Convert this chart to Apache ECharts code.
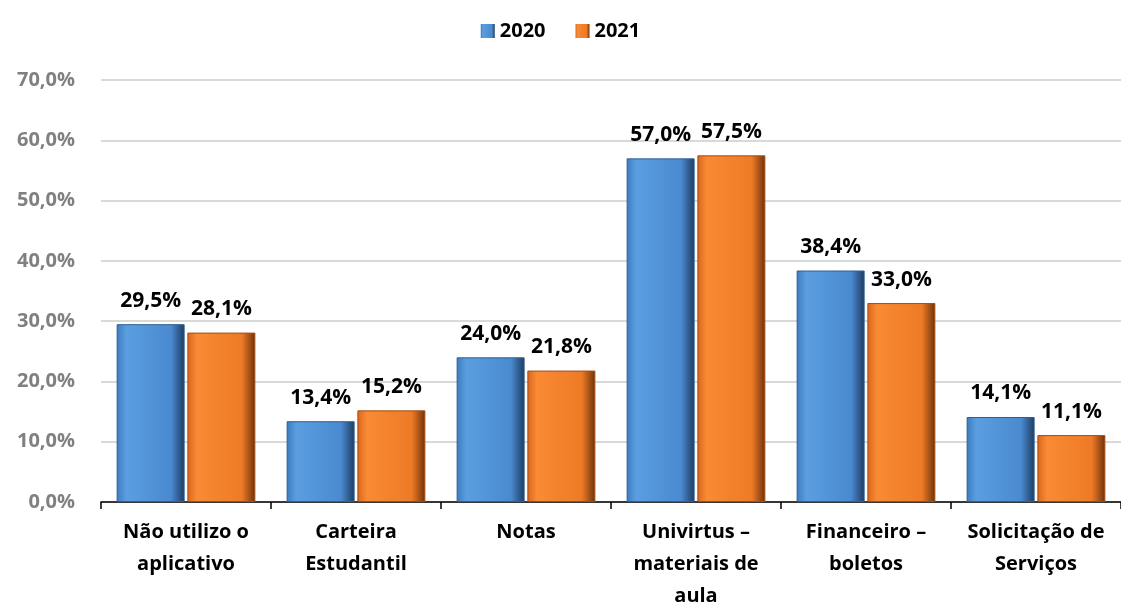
<!DOCTYPE html>
<html>
<head>
<meta charset="utf-8">
<script src="https://cdn.jsdelivr.net/npm/echarts@6/dist/echarts.min.js"></script>
<style>
  html, body { margin: 0; padding: 0; background: #fff; }
  #chart { width: 1121px; height: 612px; }
</style>
</head>
<body>
<div id="chart"></div>
<script>
// categorias e valores (%)
const categories = ['Não utilizo o\naplicativo', 'Carteira\nEstudantil', 'Notas', 'Univirtus –\nmateriais de\naula', 'Financeiro –\nboletos', 'Solicitação de\nServiços'];
const values2020 = [29.5, 13.4, 24.0, 57.0, 38.4, 14.1];
const values2021 = [28.1, 15.2, 21.8, 57.5, 33.0, 11.1];
const seriesNames = ['2020', '2021'];

const fontFam = '"Open Sans", Lato, sans-serif';

// gradiente horizontal para imitar o bisel
function bevel(left, light, mid, dark) {
  return new echarts.graphic.LinearGradient(0, 0, 1, 0, [
    { offset: 0, color: left },
    { offset: 0.14, color: light },
    { offset: 0.8, color: mid },
    { offset: 1, color: dark }
  ]);
}
const blue = bevel('#3d7bbd', '#5a9ee0', '#4a8ad0', '#1d3b60');
const orange = bevel('#d8661d', '#fa8a34', '#ee7a26', '#6e320b');

function fmt(v) {
  return v.toFixed(1).replace('.', ',') + '%';
}

const labelStyle = {
  show: true,
  position: 'top',
  distance: 13,
  fontFamily: fontFam,
  fontWeight: 'bold',
  fontSize: 21,
  color: '#000',
  formatter: p => fmt(p.value)
};

const chart = echarts.init(document.getElementById('chart'));
chart.setOption({
  animation: false,
  legend: {
    top: 16,
    left: 'center',
    icon: 'rect',
    itemWidth: 14,
    itemHeight: 14,
    itemGap: 30,
    itemStyle: { borderWidth: 0 },
    textStyle: { fontFamily: fontFam, fontWeight: 'bold', fontSize: 20, color: '#000' },
    data: [
      { name: seriesNames[0], itemStyle: { color: blue } },
      { name: seriesNames[1], itemStyle: { color: orange } }
    ]
  },
  grid: { left: 101, right: -10, top: 80, bottom: 109 },
  xAxis: {
    type: 'category',
    data: categories,
    axisLine: { lineStyle: { color: '#000', width: 1.5 } },
    axisTick: { show: true, length: 7, lineStyle: { color: '#000', width: 1.5 } },
    axisLabel: {
      interval: 0,
      margin: 14,
      fontFamily: fontFam,
      fontWeight: 'bold',
      fontSize: 20,
      lineHeight: 32,
      color: '#000'
    }
  },
  yAxis: {
    type: 'value',
    min: 0,
    max: 70,
    interval: 10,
    axisLine: { show: false },
    axisTick: { show: false },
    splitLine: { lineStyle: { color: '#d9d9d9', width: 2 } },
    axisLabel: {
      margin: 26,
      fontFamily: fontFam,
      fontWeight: 'bold',
      fontSize: 20,
      color: '#808080',
      formatter: v => v.toFixed(1).replace('.', ',') + '%'
    }
  },
  series: [
    {
      name: seriesNames[0],
      type: 'bar',
      data: values2020,
      barWidth: 68,
      barGap: '4%',
      itemStyle: { color: blue, borderColor: '#2f5f94', borderWidth: 1 },
      label: labelStyle
    },
    {
      name: seriesNames[1],
      type: 'bar',
      data: values2021,
      barWidth: 68,
      itemStyle: { color: orange, borderColor: '#a44c12', borderWidth: 1 },
      label: labelStyle
    }
  ]
});
</script>
</body>
</html>
